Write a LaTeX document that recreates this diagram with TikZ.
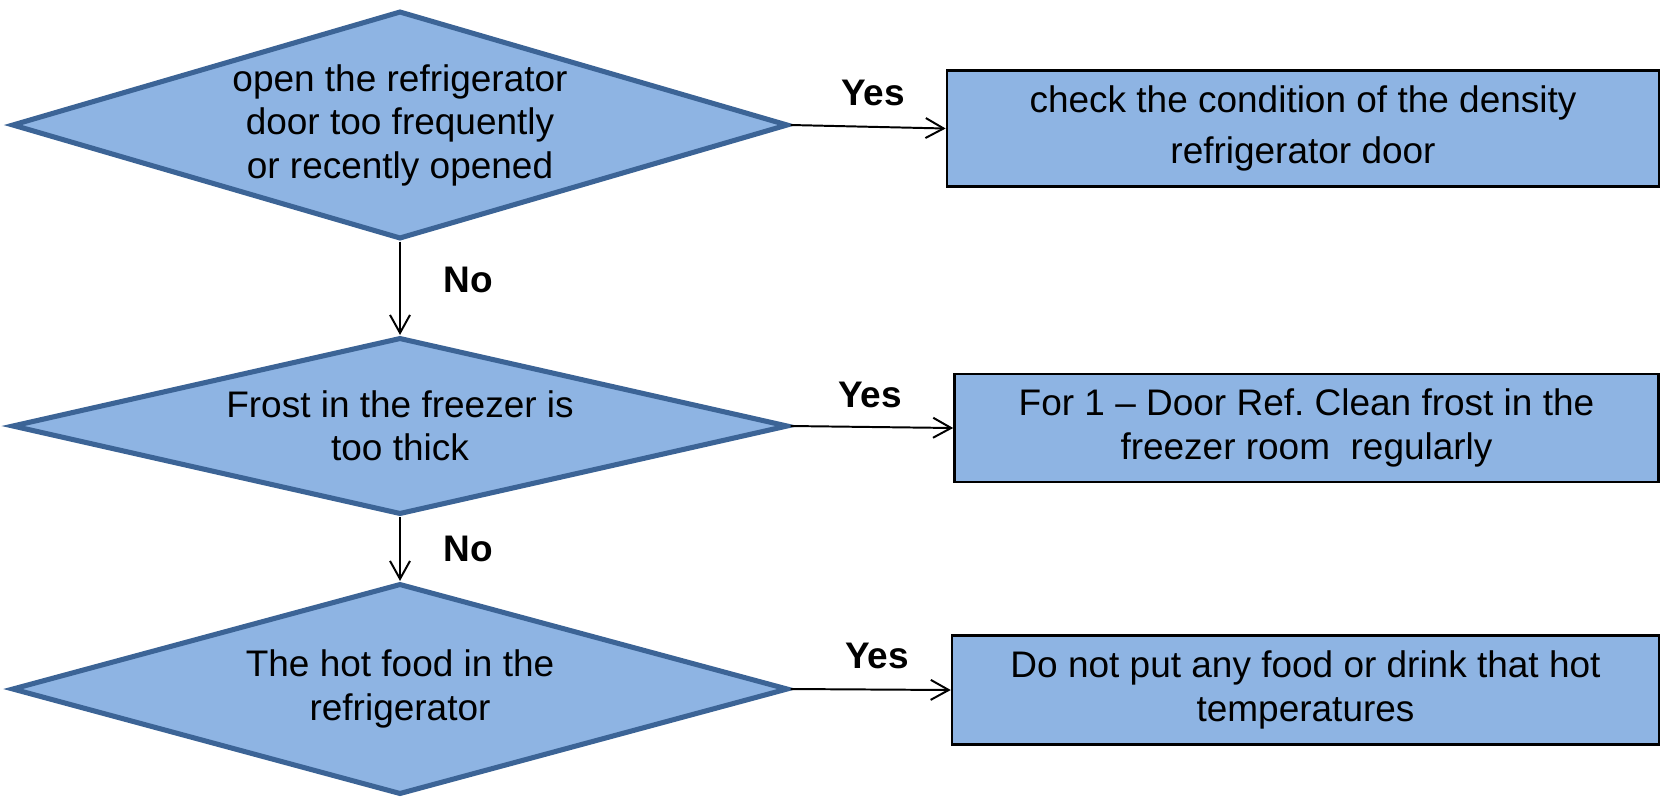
\documentclass[tikz,border=0pt]{standalone}
\usepackage{fontspec}
\setmainfont{Liberation Sans}
\usetikzlibrary{arrows.meta}
\usetikzlibrary{shapes.geometric}
\definecolor{boxfill}{HTML}{8EB4E3}
\definecolor{condline}{HTML}{3C6496}

\begin{document}
\begin{tikzpicture}[x=0.025cm, y=-0.025cm, >={Straight Barb[length=0.45cm,width=0.5cm]},
  font=\fontsize{26.3}{30.9}\selectfont,
  cond/.style={diamond, draw=condline, fill=boxfill, line width=3.6pt, inner sep=0pt, align=center},
  todo/.style={rectangle, draw=black, fill=boxfill, line width=1.8pt, inner sep=0pt, align=center},
  link/.style={->, line width=1.4pt},
  answer/.style={font=\fontsize{26.3}{30.9}\selectfont\bfseries}]
\useasboundingbox (0,0) rectangle (1661,798);
\node [cond, minimum width=19.4cm, minimum height=5.7cm, shape aspect=3.4, name=ask1] at (400,125) {open the refrigerator\\door too frequently\\or recently opened};
\node [cond, minimum width=19.4cm, minimum height=4.425cm, shape aspect=4.4, name=ask2] at (400,426) {Frost in the freezer is\\too thick};
\node [cond, minimum width=19.4cm, minimum height=5.275cm, shape aspect=3.7, name=ask3] at (400,689) {The hot food in the\\refrigerator};
\node [todo, minimum width=17.8cm, minimum height=2.9cm, name=fix1] at (1303,128.5) {check the condition of the density\\[0.19cm]refrigerator door};
\node [todo, minimum width=17.6cm, minimum height=2.7cm, name=fix2] at (1306.5,428) {For 1 -- Door Ref.\ Clean frost in the\\freezer room\ \ regularly};
\node [todo, minimum width=17.67cm, minimum height=2.72cm, name=fix3] at (1305.5,690) {Do not put any food or drink that hot\\temperatures};
\begin{scope}
\draw [link] (ask1.east) -- (fix1.west);
\draw [link] (ask2.east) -- (fix2.west);
\draw [link] (ask3.east) -- (fix3.west);
\draw [link] (ask1.south) -- (ask2.north);
\draw [link] (ask2.south) -- (ask3.north);
\draw (873,93) node [answer, name=yes1] {Yes};
\draw (870,394.5) node [answer, name=yes2] {Yes};
\draw (877,656) node [answer, name=yes3] {Yes};
\draw (468,280) node [answer, name=no1] {No};
\draw (468,548.5) node [answer, name=no2] {No};
\end{scope}
\end{tikzpicture}
\end{document}
